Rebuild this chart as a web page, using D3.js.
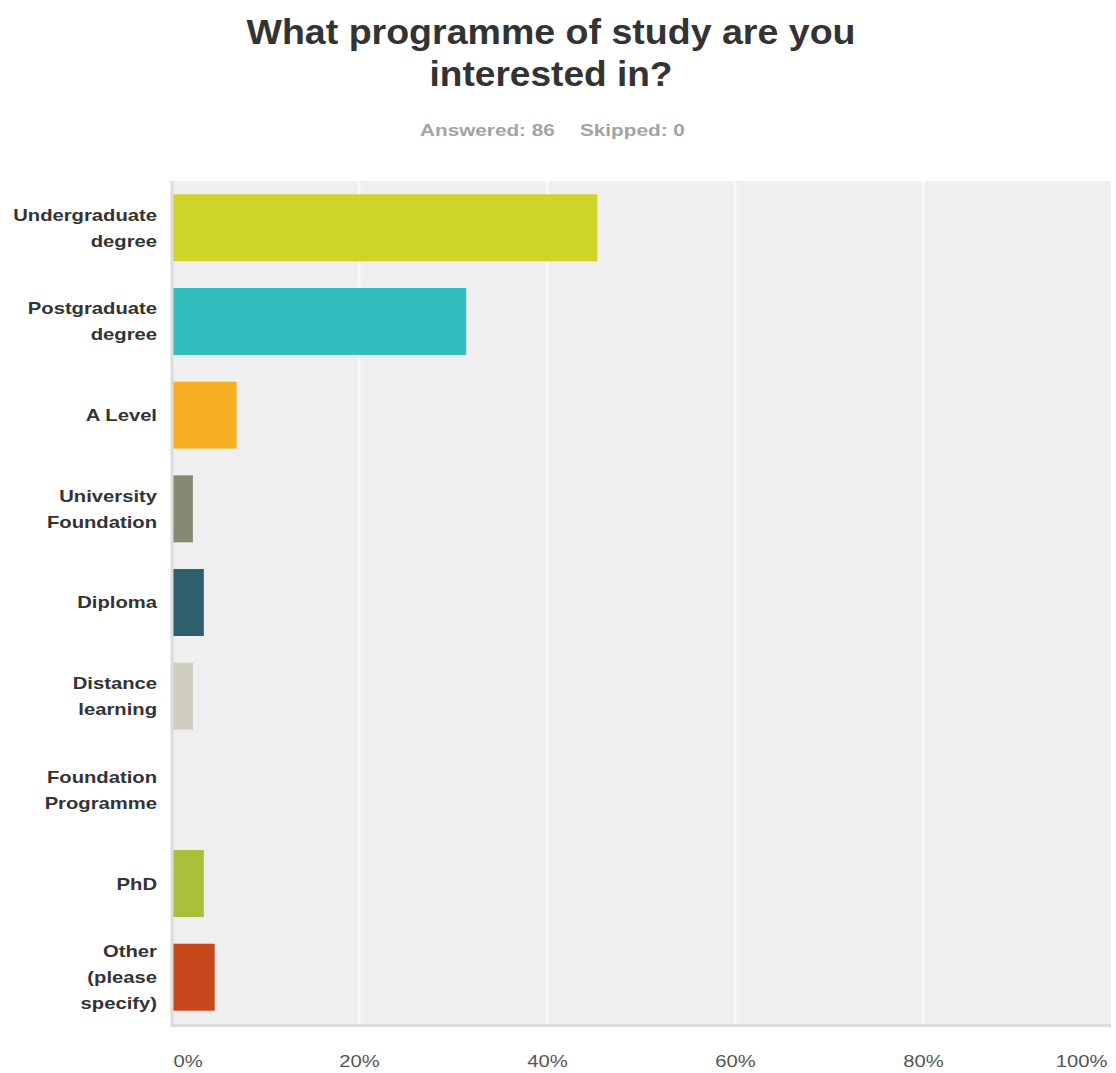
<!DOCTYPE html>
<html>
<head>
<meta charset="utf-8">
<script src="https://cdn.jsdelivr.net/npm/d3@7"></script>
<style>
  html, body { margin: 0; padding: 0; background: #fff; }
  svg { display: block; font-family: "Liberation Sans", Arial, sans-serif; }
</style>
</head>
<body>
<svg id="chart" width="1116" height="1073"></svg>
<script>
// Survey question and response summary
const titleLines = ["What programme of study are you", "interested in?"];
const answered = 86;
const skipped = 0;

// Answer choices (label lines) and share of respondents, in percent
const categories = [
  ["Undergraduate", "degree"],
  ["Postgraduate", "degree"],
  ["A Level"],
  ["University", "Foundation"],
  ["Diploma"],
  ["Distance", "learning"],
  ["Foundation", "Programme"],
  ["PhD"],
  ["Other", "(please", "specify)"]
];
const percents = [45.35, 31.40, 6.98, 2.33, 3.49, 2.33, 0, 3.49, 4.65];
const barColors = ["#cfd428", "#33bdbf", "#f6af22", "#878874", "#2e5f6c",
                   "#cfcebf", "#e8e8e8", "#abbf3a", "#c8471c"];
const tickValues = [0, 20, 40, 60, 80, 100];

// Text is drawn slightly widened horizontally
const stretch = 1.19;

const svg = d3.select("#chart");
const plot = { left: 171, right: 1111, top: 181, bottom: 1024 };

const x = d3.scaleLinear().domain([0, 100]).range([plot.left, plot.right]);
const y = d3.scaleBand()
  .domain(d3.range(categories.length))
  .range([plot.top, plot.bottom])
  .paddingInner(0.285)
  .paddingOuter(0.142);

// Title and summary line
svg.append("g").selectAll("text")
  .data(titleLines)
  .join("text")
  .attr("x", 551)
  .attr("y", (d, i) => 44 + i * 42)
  .attr("text-anchor", "middle")
  .attr("font-size", 35)
  .attr("font-weight", "bold")
  .attr("fill", "#333")
  .attr("textLength", (d, i) => i === 0 ? 609 : 243)
  .attr("lengthAdjust", "spacingAndGlyphs")
  .text(d => d);

const summaryParts = [
  { text: `Answered: ${answered}`, x: 420 },
  { text: `Skipped: ${skipped}`, x: 580 }
];
svg.append("g").selectAll("text")
  .data(summaryParts)
  .join("text")
  .attr("transform", d => `translate(${d.x},136) scale(${stretch + 0.03},1)`)
  .attr("font-size", 17)
  .attr("font-weight", "bold")
  .attr("fill", "#a3a3a3")
  .text(d => d.text);

// Plot background
svg.append("rect")
  .attr("x", plot.left).attr("y", plot.top)
  .attr("width", plot.right - plot.left).attr("height", plot.bottom - plot.top)
  .attr("fill", "#efefef");

// Vertical gridlines
svg.append("g").selectAll("line")
  .data(tickValues.slice(1, -1))
  .join("line")
  .attr("x1", d => x(d)).attr("x2", d => x(d))
  .attr("y1", plot.top).attr("y2", plot.bottom)
  .attr("stroke", "#fafafa")
  .attr("stroke-width", 3);

// Bars
svg.append("g").selectAll("rect")
  .data(percents)
  .join("rect")
  .attr("x", x(0) + 2)
  .attr("y", (d, i) => y(i))
  .attr("width", d => Math.max(0, x(d) - x(0) - 2))
  .attr("height", y.bandwidth())
  .attr("fill", (d, i) => barColors[i]);

// Left and bottom borders
svg.append("line")
  .attr("x1", plot.left + 1).attr("x2", plot.left + 1)
  .attr("y1", plot.top).attr("y2", plot.bottom + 3)
  .attr("stroke", "#dcdcdc").attr("stroke-width", 3);
svg.append("line")
  .attr("x1", plot.left).attr("x2", plot.right)
  .attr("y1", plot.bottom + 1.5).attr("y2", plot.bottom + 1.5)
  .attr("stroke", "#dcdcdc").attr("stroke-width", 3);

// Category labels, right-aligned and vertically centred on each band
const labels = svg.append("g").selectAll("text")
  .data(categories)
  .join("text")
  .attr("transform", `translate(157,0) scale(${stretch},1)`)
  .attr("text-anchor", "end")
  .attr("font-size", 17)
  .attr("font-weight", "bold")
  .attr("fill", "#333");
labels.each(function(lines, i) {
  const cy = y(i) + y.bandwidth() / 2;
  const lh = 26;
  const top = cy - (lines.length - 1) * lh / 2 + 6;
  d3.select(this).selectAll("tspan")
    .data(lines)
    .join("tspan")
    .attr("x", 0)
    .attr("y", (d, j) => top + j * lh)
    .text(d => d);
});

// Percentage axis
const axis = d3.axisBottom(x)
  .tickValues(tickValues)
  .tickFormat(d => d + "%")
  .tickSize(0)
  .tickPadding(0);
const axisG = svg.append("g")
  .attr("transform", `translate(0, ${plot.bottom + 43})`)
  .call(axis);
axisG.select(".domain").remove();
const last = tickValues.length - 1;
axisG.selectAll("text")
  .attr("y", 0)
  .attr("dy", 0)
  .attr("font-family", "'Liberation Sans', Arial, sans-serif")
  .attr("font-size", 17)
  .attr("fill", "#555")
  .attr("text-anchor", (d, i) => i === 0 ? "start" : (i === last ? "end" : "middle"))
  .attr("transform", (d, i) => `translate(${i === 0 ? 2 : (i === last ? -4 : 0)},0) scale(${stretch},1)`);
</script>
</body>
</html>
